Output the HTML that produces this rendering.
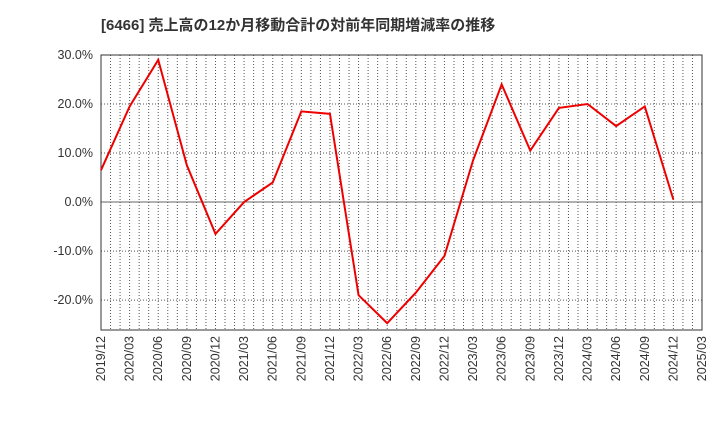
<!DOCTYPE html>
<html><head><meta charset="utf-8"><style>
body{margin:0;background:#fff;}
svg text{font-family:"Liberation Sans","Noto Sans CJK JP",sans-serif;}
</style></head><body>
<svg id="c" width="720" height="440" xmlns="http://www.w3.org/2000/svg">
<text x="101" y="30" font-size="15" font-weight="bold" fill="#333">[6466]  売上高の12か月移動合計の対前年同期増減率の推移</text>
<g id="grid"></g><g id="axes"></g><g id="series"></g>
</svg>
<script>
const categories=["2019/12","2020/03","2020/06","2020/09","2020/12","2021/03","2021/06","2021/09","2021/12","2022/03","2022/06","2022/09","2022/12","2023/03","2023/06","2023/09","2023/12","2024/03","2024/06","2024/09","2024/12","2025/03"];
const values=[6.5,19.5,29,7.5,-6.5,0,4,18.5,18,-19,-24.7,-18.5,-11,8.5,24,10.5,19.2,20,15.5,19.5,0.5];
const yTicks=[30,20,10,0,-10,-20];
const yTickLabels=["30.0%","20.0%","10.0%","0.0%","-10.0%","-20.0%"];
const L=101,R=702,T=55,B=330,yMax=30,yMin=-26.1;
const NS="http://www.w3.org/2000/svg";
const xs=i=>L+(R-L)*i/(categories.length-1);
const ys=v=>T+(yMax-v)/(yMax-yMin)*(B-T);
function mk(t,a,p){const e=document.createElementNS(NS,t);for(const k in a)e.setAttribute(k,a[k]);p.appendChild(e);return e;}
const g=document.getElementById('grid'),ax=document.getElementById('axes'),s=document.getElementById('series');
const nM=(categories.length-1)*3;
for(let m=1;m<nM;m++){const x=L+(R-L)*m/nM;
const ln=mk('line',{x1:x,x2:x,y1:T,y2:B,stroke:'#555','stroke-width':1,'stroke-dasharray':'1,2'},g);

}
yTicks.forEach((v,i)=>{const y=ys(v);
const ln=mk('line',{x1:L,x2:R,y1:y,y2:y,stroke:v===0?'#666':'#555','stroke-width':1,'stroke-dasharray':v===0?'none':'1,2'},g);


const t=mk('text',{x:L-8,y:y+4,'text-anchor':'end','font-size':12.5,fill:'#333'},ax);t.textContent=yTickLabels[i];

});
const fr=mk('rect',{x:L,y:T,width:R-L,height:B-T,fill:'none',stroke:'#333','stroke-width':1},ax);


categories.forEach((c,i)=>{const x=xs(i);
const t=mk('text',{x:x+4,y:B+6,'text-anchor':'end','font-size':12.5,fill:'#333',transform:`rotate(-90 ${x+4} ${B+6})`},ax);t.textContent=c;

});
const pl=mk('polyline',{points:values.map((v,i)=>xs(i)+','+ys(v)).join(' '),fill:'none',stroke:'#ee0000','stroke-width':2,'stroke-linejoin':'miter'},s);


</script>
</body></html>
